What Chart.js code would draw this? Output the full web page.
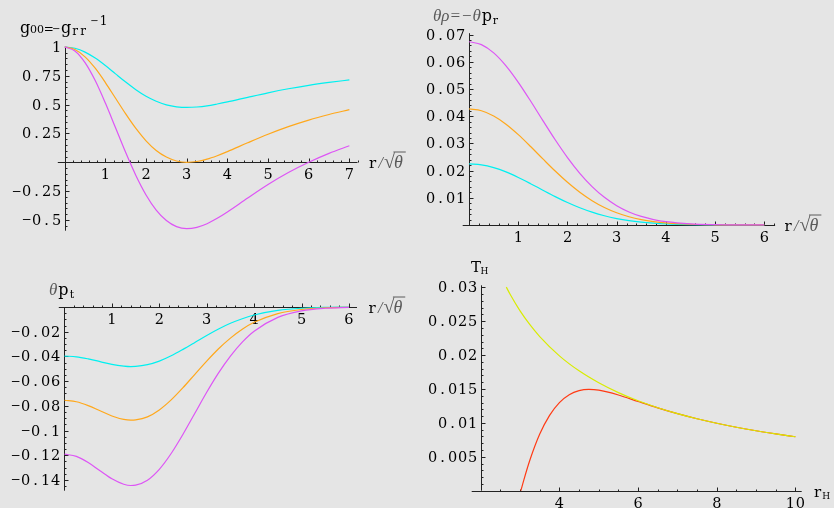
<!DOCTYPE html>
<html>
<head>
<meta charset="utf-8">
<script src="https://cdn.jsdelivr.net/npm/chart.js@4/dist/chart.umd.min.js"></script>
<style>
  html, body { margin: 0; padding: 0; background: #e5e5e5; }
  #wrap { position: relative; width: 834px; height: 508px; overflow: hidden; }
  #wrap canvas { position: absolute; left: 0; top: 0; }
</style>
</head>
<body>
<div id="wrap">
  <canvas id="c1" width="834" height="508"></canvas>
  <canvas id="c2" width="834" height="508"></canvas>
  <canvas id="c3" width="834" height="508"></canvas>
  <canvas id="c4" width="834" height="508"></canvas>
</div>
<script>
// ---- data ----
// top-left: g00 = -1/grr against r/sqrt(theta)
const rMetric = [0, 0.25, 0.5, 0.75, 1, 1.25, 1.5, 1.75, 2, 2.25, 2.5, 2.75, 3, 3.25, 3.5, 3.75, 4, 4.5, 5, 5.5, 6, 6.5, 7];
const g00Cyan = [1, 0.988, 0.955, 0.903, 0.838, 0.766, 0.695, 0.629, 0.572, 0.529, 0.498, 0.481, 0.475, 0.479, 0.489, 0.505, 0.523, 0.563, 0.602, 0.637, 0.667, 0.692, 0.714];
const g00Orange = [1, 0.978, 0.914, 0.815, 0.691, 0.555, 0.419, 0.293, 0.186, 0.102, 0.045, 0.011, 0.0, 0.007, 0.027, 0.057, 0.092, 0.169, 0.243, 0.309, 0.366, 0.414, 0.456];
const g00Magenta = [1, 0.965, 0.864, 0.708, 0.513, 0.299, 0.084, -0.114, -0.283, -0.414, -0.505, -0.558, -0.575, -0.564, -0.533, -0.486, -0.431, -0.310, -0.193, -0.089, 0.0, 0.077, 0.143];

// top-right: theta*rho
const rRho = [0, 0.25, 0.5, 0.75, 1, 1.25, 1.5, 1.75, 2, 2.25, 2.5, 2.75, 3, 3.25, 3.5, 3.75, 4, 4.5, 5, 5.5, 6];
const rhoCyan = [0.02245, 0.02210, 0.02109, 0.01951, 0.01748, 0.01519, 0.01279, 0.01044, 0.00826, 0.00633, 0.00471, 0.00339, 0.00237, 0.00160, 0.00105, 0.00067, 0.00041, 0.00014, 0.00004, 0.00001, 0];
const rhoOrange = [0.04265, 0.04199, 0.04007, 0.03706, 0.03322, 0.02886, 0.02430, 0.01983, 0.01569, 0.01203, 0.00894, 0.00644, 0.00450, 0.00304, 0.00199, 0.00127, 0.00078, 0.00027, 0.00008, 0.00002, 0.00001];
const rhoMagenta = [0.06735, 0.06631, 0.06327, 0.05851, 0.05245, 0.04557, 0.03837, 0.03132, 0.02478, 0.01900, 0.01412, 0.01017, 0.00710, 0.00480, 0.00315, 0.00200, 0.00123, 0.00043, 0.00013, 0.00004, 0.00001];

// bottom-left: theta*p_t
const rPt = [0, 0.25, 0.5, 0.75, 1, 1.25, 1.4, 1.5, 1.75, 2, 2.25, 2.5, 2.75, 3, 3.25, 3.5, 3.75, 4, 4.5, 5, 5.5, 6];
const ptCyan = [-0.0397, -0.0403, -0.0420, -0.0442, -0.0464, -0.0478, -0.0482, -0.0481, -0.0467, -0.0438, -0.0395, -0.0343, -0.0287, -0.0230, -0.0178, -0.0132, -0.0095, -0.0065, -0.0028, -0.0010, -0.0003, -0.0001];
const ptOrange = [-0.0755, -0.0767, -0.0798, -0.0840, -0.0882, -0.0910, -0.0916, -0.0914, -0.0889, -0.0833, -0.0752, -0.0653, -0.0545, -0.0438, -0.0338, -0.0252, -0.0180, -0.0124, -0.0053, -0.0020, -0.0006, -0.0002];
const ptMagenta = [-0.1191, -0.1209, -0.1259, -0.1326, -0.1391, -0.1435, -0.1445, -0.1442, -0.1402, -0.1314, -0.1186, -0.1030, -0.0860, -0.0690, -0.0533, -0.0397, -0.0284, -0.0196, -0.0084, -0.0031, -0.0010, -0.0003];

// bottom-right: T_H against r_H
const rHRed = [3.02, 3.1, 3.25, 3.5, 3.75, 4, 4.25, 4.5, 4.75, 5, 5.5, 6, 6.5, 7, 7.5, 8, 8.5, 9, 9.5, 10];
const tRed = [0, 0.00168, 0.00453, 0.00836, 0.01112, 0.01300, 0.01416, 0.01476, 0.01494, 0.01483, 0.01412, 0.01316, 0.01222, 0.01136, 0.01061, 0.00995, 0.00936, 0.00884, 0.00838, 0.00796];
const rHYellow = [2.65, 2.75, 3, 3.25, 3.5, 4, 4.5, 5, 5.5, 6, 6.5, 7, 7.5, 8, 8.5, 9, 9.5, 10];
const tYellow = [0.03003, 0.02894, 0.02653, 0.02449, 0.02274, 0.01989, 0.01768, 0.01592, 0.01447, 0.01326, 0.01224, 0.01137, 0.01061, 0.00995, 0.00936, 0.00884, 0.00838, 0.00796];

// tick values and labels
const p1XTicks = [1, 2, 3, 4, 5, 6, 7];
const p1YTicks = [-0.5, -0.25, 0.25, 0.5, 0.75, 1];
const p1YLabels = ['\u22120.5', '\u22120.25', '0.25', '0.5', '0.75', '1'];
const p2XTicks = [1, 2, 3, 4, 5, 6];
const p2YTicks = [0.01, 0.02, 0.03, 0.04, 0.05, 0.06, 0.07];
const p2YLabels = ['0.01', '0.02', '0.03', '0.04', '0.05', '0.06', '0.07'];
const p3XTicks = [1, 2, 3, 4, 5, 6];
const p3YTicks = [-0.02, -0.04, -0.06, -0.08, -0.1, -0.12, -0.14];
const p3YLabels = ['\u22120.02', '\u22120.04', '\u22120.06', '\u22120.08', '\u22120.1', '\u22120.12', '\u22120.14'];
const p4XTicks = [4, 6, 8, 10];
const p4YTicks = [0.005, 0.01, 0.015, 0.02, 0.025, 0.03];
const p4YLabels = ['0.005', '0.01', '0.015', '0.02', '0.025', '0.03'];

const CYAN = '#00f0f0';
const ORANGE = '#ffa81c';
const MAGENTA = '#dd55f5';
const YELLOW = '#d8ec00';
const RED = '#ff3a14';
const GRAY = '#5a5a5a';
const INK = '#000';
const SERIF = '"DejaVu Serif", "Liberation Serif", serif';
const THIN = '"Liberation Serif", "DejaVu Serif", serif';

function pts(xs, ys) {
  return xs.map((x, i) => ({ x: x, y: ys[i] }));
}

function line(data, color) {
  return {
    data: data,
    borderColor: color,
    borderWidth: 1.2,
    pointRadius: 0,
    fill: false,
    cubicInterpolationMode: 'monotone',
    clip: false
  };
}

// typewriter-like text: every character centred in a fixed cell
function cellText(ctx, text, x, y, size, cell, dy) {
  ctx.textAlign = 'center';
  ctx.textBaseline = 'alphabetic';
  ctx.fillStyle = INK;
  const chars = Array.from(text);
  chars.forEach((ch, i) => {
    const cx = x + (i + 0.5) * cell;
    if (ch === '\u2212') {
      ctx.font = Math.round(size * 0.8) + 'px ' + SERIF;
      ctx.fillText(ch, cx, y + (dy || 0) - 1.5);
    } else {
      ctx.font = size + 'px ' + SERIF;
      ctx.fillText(ch, cx, y + (dy || 0));
    }
  });
  return x + chars.length * cell;
}

// pieces of text one after another on a common baseline
function drawRuns(ctx, x, y, runs) {
  for (const run of runs) {
    if (run.cell) {
      x = cellText(ctx, run.text, x, y, run.size, run.cell, run.dy) + (run.gap || 0);
    } else {
      ctx.textAlign = 'left';
      ctx.textBaseline = 'alphabetic';
      ctx.font = run.font;
      ctx.fillStyle = run.color || INK;
      ctx.fillText(run.text, x, y + (run.dy || 0));
      x += ctx.measureText(run.text).width + (run.gap || 0);
    }
  }
  return x;
}

// r / sqrt(theta)
function drawRootLabel(ctx, x, y) {
  x = drawRuns(ctx, x, y, [
    { text: 'r', size: 15, cell: 10, gap: 1 },
    { text: '/', font: 'italic 16px ' + THIN, color: GRAY, gap: 1 },
    { text: '\u221a', font: '20px ' + THIN, color: GRAY, gap: -1 }
  ]);
  ctx.font = 'italic 18px ' + THIN;
  const w = ctx.measureText('\u03b8').width;
  ctx.fillStyle = GRAY;
  ctx.fillText('\u03b8', x, y);
  ctx.strokeStyle = GRAY;
  ctx.lineWidth = 1;
  ctx.beginPath();
  ctx.moveTo(x - 0.5, y - 15.5);
  ctx.lineTo(x + w + 3, y - 15.5);
  ctx.stroke();
}

// Mathematica-like crossing axes with inward ticks
function mathAxes(spec) {
  return {
    id: 'mathAxes',
    beforeDatasetsDraw(chart) {
      const ctx = chart.ctx;
      const xs = chart.scales.x, ys = chart.scales.y;
      const area = chart.chartArea;
      const axY = Math.round(ys.getPixelForValue(spec.yCross)) + 0.5;
      const axX = Math.round(xs.getPixelForValue(spec.xCross)) + 0.5;
      ctx.save();
      ctx.strokeStyle = '#222';
      ctx.lineWidth = 1;
      ctx.beginPath();
      ctx.moveTo(area.left, axY); ctx.lineTo(area.right, axY);
      ctx.moveTo(axX, area.top); ctx.lineTo(axX, area.bottom);
      const near = (v, arr) => arr.some(m => Math.abs(m - v) < 1e-9);
      spec.xTicks.forEach(v => {
        const p = Math.round(xs.getPixelForValue(v)) + 0.5;
        ctx.moveTo(p, axY); ctx.lineTo(p, axY - 4);
      });
      spec.yTicks.forEach(v => {
        const p = Math.round(ys.getPixelForValue(v)) + 0.5;
        ctx.moveTo(axX, p); ctx.lineTo(axX + 4, p);
      });
      const nx = Math.round((spec.xMinor[1] - spec.xMinor[0]) / spec.xMinor[2]);
      for (let i = 0; i <= nx; i++) {
        const v = +(spec.xMinor[0] + i * spec.xMinor[2]).toFixed(6);
        if (near(v, spec.xTicks) || Math.abs(v - spec.xCross) < 1e-9) continue;
        const p = Math.round(xs.getPixelForValue(v)) + 0.5;
        ctx.moveTo(p, axY); ctx.lineTo(p, axY - 2);
      }
      const ny = Math.round((spec.yMinor[1] - spec.yMinor[0]) / spec.yMinor[2]);
      for (let i = 0; i <= ny; i++) {
        const v = +(spec.yMinor[0] + i * spec.yMinor[2]).toFixed(6);
        if (near(v, spec.yTicks) || Math.abs(v - spec.yCross) < 1e-9) continue;
        const p = Math.round(ys.getPixelForValue(v)) + 0.5;
        ctx.moveTo(axX, p); ctx.lineTo(axX + 2, p);
      }
      ctx.stroke();

      // tick labels, 10px per character like Courier
      const CELL = 10;
      spec.xTicks.forEach(v => {
        const lab = String(v);
        const w = Array.from(lab).length * CELL;
        cellText(ctx, lab, xs.getPixelForValue(v) - w / 2, axY + 16, 14.5, CELL);
      });
      spec.yTicks.forEach((v, i) => {
        const lab = spec.yLabels[i];
        const w = Array.from(lab).length * CELL;
        cellText(ctx, lab, axX - 4 - w, ys.getPixelForValue(v) + 5, 14.5, CELL);
      });

      // axis titles
      drawRuns(ctx, spec.title.x, spec.title.y, spec.title.runs);
      if (spec.rootLabel) {
        drawRootLabel(ctx, area.right + spec.rootLabel.dx, axY + spec.rootLabel.dy);
      } else if (spec.xTitle) {
        drawRuns(ctx, area.right + spec.xTitle.dx, axY + spec.xTitle.dy, spec.xTitle.runs);
      }
      ctx.restore();
    }
  };
}

function makeChart(id, datasets, xr, yr, pad, spec) {
  return new Chart(document.getElementById(id), {
    type: 'line',
    data: { datasets: datasets },
    options: {
      responsive: false,
      animation: false,
      events: [],
      layout: { padding: pad },
      scales: {
        x: { type: 'linear', min: xr[0], max: xr[1], display: false },
        y: { type: 'linear', min: yr[0], max: yr[1], display: false }
      },
      plugins: { legend: { display: false }, tooltip: { enabled: false } }
    },
    plugins: [mathAxes(spec)]
  });
}

// top-left
makeChart('c1', [
  line(pts(rMetric, g00Magenta), MAGENTA),
  line(pts(rMetric, g00Orange), ORANGE),
  line(pts(rMetric, g00Cyan), CYAN)
], [-0.17, 7.2], [-0.593, 1.0], { left: 57.8, top: 46.9, right: 834 - 357.5, bottom: 508 - 230.7 }, {
  xCross: 0, yCross: 0,
  xTicks: p1XTicks, yTicks: p1YTicks, yLabels: p1YLabels,
  xMinor: [0.2, 7.2, 0.2], yMinor: [-0.55, 1.0, 0.05],
  title: { x: 20, y: 33, runs: [
    { text: 'g', size: 16, cell: 10 },
    { text: '00', size: 11, cell: 7, gap: 1 },
    { text: '=\u2212', size: 12, cell: 7.5, gap: 1 },
    { text: 'g', size: 16, cell: 10 },
    { text: 'rr', size: 12, cell: 8, dy: 2, gap: 3 },
    { text: '\u22121', size: 12, cell: 9, dy: -8 }
  ] },
  rootLabel: { dx: 10, dy: 5 }
});

// top-right
makeChart('c2', [
  line(pts(rRho, rhoMagenta), MAGENTA),
  line(pts(rRho, rhoOrange), ORANGE),
  line(pts(rRho, rhoCyan), CYAN)
], [-0.13, 6.22], [0, 0.0705], { left: 462.7, top: 33.2, right: 834 - 775.1, bottom: 508 - 225 }, {
  xCross: 0, yCross: 0,
  xTicks: p2XTicks, yTicks: p2YTicks, yLabels: p2YLabels,
  xMinor: [0.2, 6.2, 0.2], yMinor: [0.002, 0.070, 0.002],
  title: { x: 433, y: 21, runs: [
    { text: '\u03b8\u03c1=\u2212\u03b8', font: 'italic 17px ' + THIN, color: GRAY, gap: 1 },
    { text: 'p', size: 16, cell: 10 },
    { text: 'r', size: 11, cell: 7, dy: 3 }
  ] },
  rootLabel: { dx: 8, dy: 5 }
});

// bottom-left
makeChart('c3', [
  line(pts(rPt, ptMagenta), MAGENTA),
  line(pts(rPt, ptOrange), ORANGE),
  line(pts(rPt, ptCyan), CYAN)
], [-0.12, 6.17], [-0.1487, 0], { left: 58.8, top: 307, right: 834 - 357.0, bottom: 508 - 490.7 }, {
  xCross: 0, yCross: 0,
  xTicks: p3XTicks, yTicks: p3YTicks, yLabels: p3YLabels,
  xMinor: [0.2, 6.0, 0.2], yMinor: [-0.145, -0.005, 0.005],
  title: { x: 49, y: 295, runs: [
    { text: '\u03b8', font: 'italic 17px ' + THIN, color: GRAY, gap: 1 },
    { text: 'p', size: 16, cell: 10 },
    { text: 't', size: 11, cell: 7, dy: 3 }
  ] },
  rootLabel: { dx: 10, dy: 5 }
});

// bottom-right
makeChart('c4', [
  line(pts(rHYellow, tYellow), YELLOW),
  line(pts(rHRed, tRed), RED)
], [1.77, 10.16], [0, 0.0303], { left: 471.7, top: 285.3, right: 834 - 801.7, bottom: 508 - 490.7 }, {
  xCross: 2, yCross: 0,
  xTicks: p4XTicks, yTicks: p4YTicks, yLabels: p4YLabels,
  xMinor: [2.5, 10, 0.5], yMinor: [0.001, 0.030, 0.001],
  title: { x: 471, y: 272, runs: [
    { text: 'T', size: 15, cell: 10 },
    { text: 'H', size: 9, cell: 7, dy: 2 }
  ] },
  xTitle: { dx: 11, dy: 5, runs: [
    { text: 'r', size: 15, cell: 10 },
    { text: 'H', size: 9, cell: 7, dy: 2 }
  ] }
});
</script>
</body>
</html>
